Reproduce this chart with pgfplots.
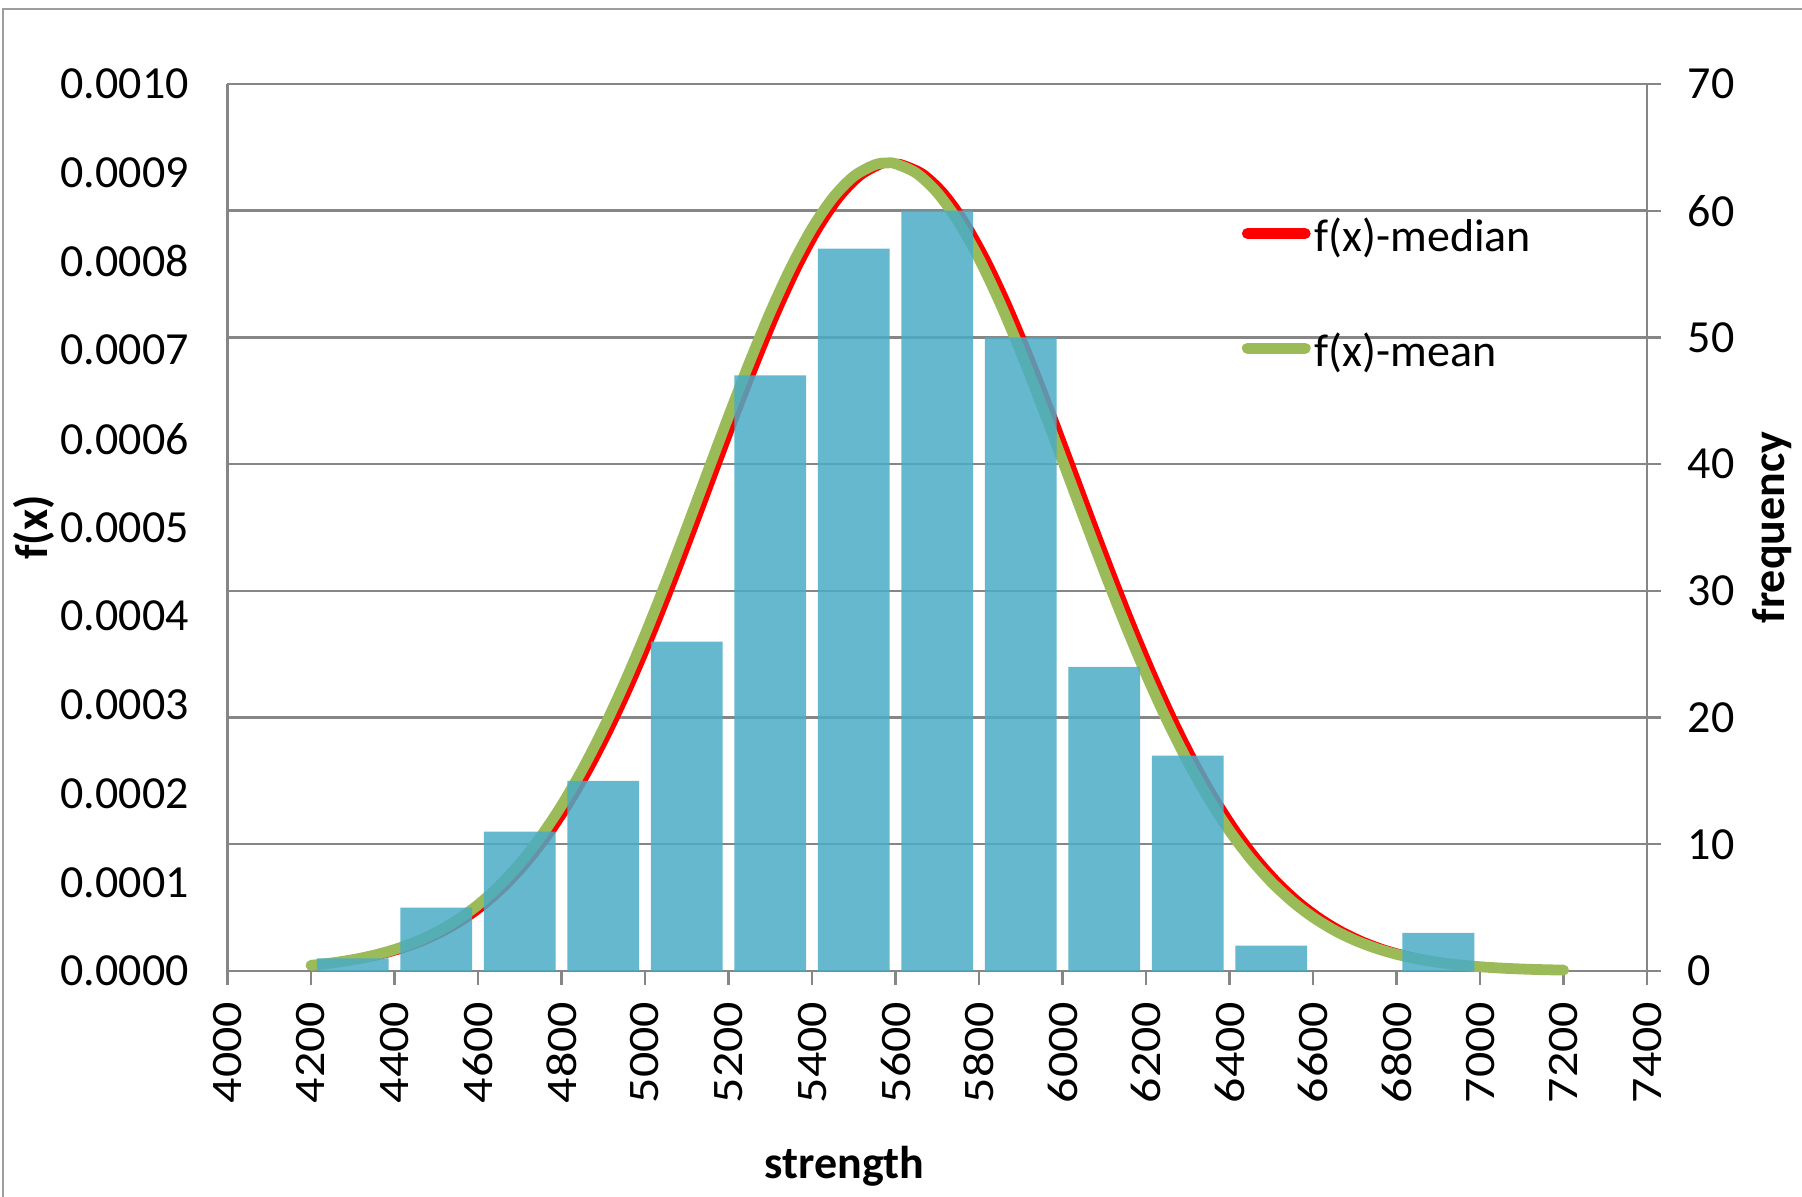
\documentclass[border=0pt]{standalone}
\usepackage{pgfplots}
\pgfplotsset{compat=1.18}
\usepackage{pgfplotstable}
\usepackage{fontspec}
\setmainfont{Carlito}
\definecolor{barc}{HTML}{4BACC6}
\definecolor{grn}{HTML}{9BBB59}
\definecolor{gridc}{HTML}{868686}
\newcommand\fs{\fontsize{11.5pt}{13.5pt}\selectfont}

\pgfplotstableread{
x y
4200 6.367e-6
4250 9.064e-6
4300 1.2736e-5
4350 1.7664e-5
4400 2.4181e-5
4450 3.2673e-5
4500 4.3578e-5
4550 5.7371e-5
4600 7.4548e-5
4650 9.5616e-5
4700 1.21055e-4
4750 1.51266e-4
4800 1.86576e-4
4850 2.27157e-4
4900 2.72991e-4
4950 3.23796e-4
5000 3.79097e-4
5050 4.38094e-4
5100 4.99723e-4
5150 5.62642e-4
5200 6.25276e-4
5250 6.85894e-4
5300 7.42641e-4
5350 7.93674e-4
5400 8.37230e-4
5450 8.71745e-4
5500 8.95930e-4
5550 9.08865e-4
5580 9.11000e-4
5600 9.10051e-4
5650 8.99439e-4
5700 8.77443e-4
5750 8.44902e-4
5800 8.03036e-4
5850 7.53360e-4
5900 6.97609e-4
5950 6.37621e-4
6000 5.75244e-4
6050 5.12252e-4
6100 4.50253e-4
6150 3.90630e-4
6200 3.34516e-4
6250 2.82755e-4
6300 2.35909e-4
6350 1.94275e-4
6400 1.57918e-4
6450 1.26703e-4
6500 1.00342e-4
6550 7.84362e-5
6600 6.05196e-5
6650 4.60904e-5
6700 3.46472e-5
6750 2.57075e-5
6800 1.88285e-5
6850 1.36112e-5
6900 9.7122e-6
6950 6.840e-6
7000 4.755e-6
7050 3.263e-6
7100 2.210e-6
7150 1.477e-6
7200 9.75e-7
}\meancurve

\pgfplotstableread{
x y
4200 5.630e-6
4217 6.367e-6
4267 9.064e-6
4317 1.2736e-5
4367 1.7664e-5
4417 2.4181e-5
4467 3.2673e-5
4517 4.3578e-5
4567 5.7371e-5
4617 7.4548e-5
4667 9.5616e-5
4717 1.21055e-4
4767 1.51266e-4
4817 1.86576e-4
4867 2.27157e-4
4917 2.72991e-4
4967 3.23796e-4
5017 3.79097e-4
5067 4.38094e-4
5117 4.99723e-4
5167 5.62642e-4
5217 6.25276e-4
5267 6.85894e-4
5317 7.42641e-4
5367 7.93674e-4
5417 8.37230e-4
5467 8.71745e-4
5517 8.95930e-4
5567 9.08865e-4
5597 9.11000e-4
5617 9.10051e-4
5667 8.99439e-4
5717 8.77443e-4
5767 8.44902e-4
5817 8.03036e-4
5867 7.53360e-4
5917 6.97609e-4
5967 6.37621e-4
6017 5.75244e-4
6067 5.12252e-4
6117 4.50253e-4
6167 3.90630e-4
6217 3.34516e-4
6267 2.82755e-4
6317 2.35909e-4
6367 1.94275e-4
6417 1.57918e-4
6467 1.26703e-4
6517 1.00342e-4
6567 7.84362e-5
6617 6.05196e-5
6667 4.60904e-5
6717 3.46472e-5
6767 2.57075e-5
6817 1.88285e-5
6867 1.36112e-5
6917 9.7122e-6
6967 6.840e-6
7017 4.755e-6
7067 3.263e-6
7117 2.210e-6
7167 1.477e-6
7200 1.125e-6
}\mediancurve

\pgfplotstableread{
x f
4300 1
4500 5
4700 11
4900 15
5100 26
5300 47
5500 57
5700 60
5900 50
6100 24
6300 17
6500 2
6900 3
}\freq

\begin{document}
\begin{tikzpicture}
\path[use as bounding box] (-56.875pt,-56.5pt) rectangle (393.625pt,242.75pt);
\begin{axis}[
  at={(0pt,0pt)}, anchor=south west,
  scale only axis, width=354.9pt, height=221.75pt,
  xmin=4000, xmax=7400, ymin=0, ymax=0.001,
  clip=false,
  axis x line*=bottom, axis y line*=left,
  axis line style={draw=gridc, line width=0.6pt, -},
  /pgf/number format/assume math mode=true,
  /pgf/number format/1000 sep={},
  xtick={4000,4200,4400,4600,4800,5000,5200,5400,5600,5800,6000,6200,6400,6600,6800,7000,7200,7400},
  ytick={0,0.0001,0.0002,0.0003,0.0004,0.0005,0.0006,0.0007,0.0008,0.0009,0.001},
  scaled y ticks=false, scaled x ticks=false,
  tick align=outside, major tick length=3.5pt,
  xtick style={draw=gridc, line width=0.6pt},
  ytick style={draw=none},
  tick label style={font=\fs},
  label style={font=\fs\bfseries},
  xticklabel={\scalebox{1}[0.87]{\fontsize{12.5pt}{14pt}\selectfont\pgfmathprintnumber[assume math mode=true,1000 sep={}]{\tick}}},
  xticklabel style={rotate=90, anchor=east, inner sep=0pt},
  xticklabel shift=4pt,
  yticklabel style={anchor=east, inner sep=0pt, xshift=-6pt, /pgf/number format/.cd, fixed, fixed zerofill, precision=4},
  extra y ticks={0.000142857,0.000285714,0.000428571,0.000571429,0.000714286,0.000857143,0.001},
  extra y tick labels={},
  extra y tick style={grid=major, major grid style={draw=gridc, line width=0.6pt}},
  xlabel={strength},
  xlabel style={at={(axis description cs:0.4345,-0.2198)}, anchor=center},
  ylabel={f(x)},
  ylabel style={at={(axis description cs:-0.1363,0.5)}, anchor=center},
  legend style={at={(axis description cs:0.714,0.7616)}, anchor=west, draw=none, fill=none,
    inner sep=0pt, row sep=18.75pt, column sep=1pt, font=\fs, nodes={inner sep=0pt}},
  legend cell align=left,
  legend image code/.code={\draw[#1, line width=2.8pt, line cap=round] (1.4pt,1.15pt) -- (15.8pt,1.15pt);},
]
\addplot[red, line width=2pt, smooth] table[x=x, y=y] {\mediancurve};
\addlegendentry{f(x)-median}
\addplot[grn, line width=2.7pt, smooth, line cap=round] table[x=x, y=y] {\meancurve};
\addlegendentry{f(x)-mean}
\end{axis}
\begin{axis}[
  at={(0pt,0pt)}, anchor=south west,
  scale only axis, width=354.9pt, height=221.75pt,
  xmin=4000, xmax=7400, ymin=0, ymax=70,
  axis x line=none, axis y line*=right,
  axis line style={draw=gridc, line width=0.6pt, -},
  /pgf/number format/assume math mode=true,
  ytick={0,10,20,30,40,50,60,70},
  tick align=outside, major tick length=3.5pt,
  ytick style={draw=gridc, line width=0.6pt},
  tick label style={font=\fs},
  label style={font=\fs\bfseries},
  yticklabel style={anchor=west, inner sep=0pt, xshift=6.5pt},
  ylabel={frequency},
  ylabel style={at={(axis description cs:1.0884,0.5)}, anchor=center},
]
\addplot[ybar, bar width=172, bar shift=0pt, fill=barc, fill opacity=0.85, draw=none] table[x=x, y=f] {\freq};
\end{axis}
\draw[gridc!80, line width=0.5pt] (-56pt,-70pt) -- (-56pt,240.6pt) -- (400pt,240.6pt);
\end{tikzpicture}
\end{document}
